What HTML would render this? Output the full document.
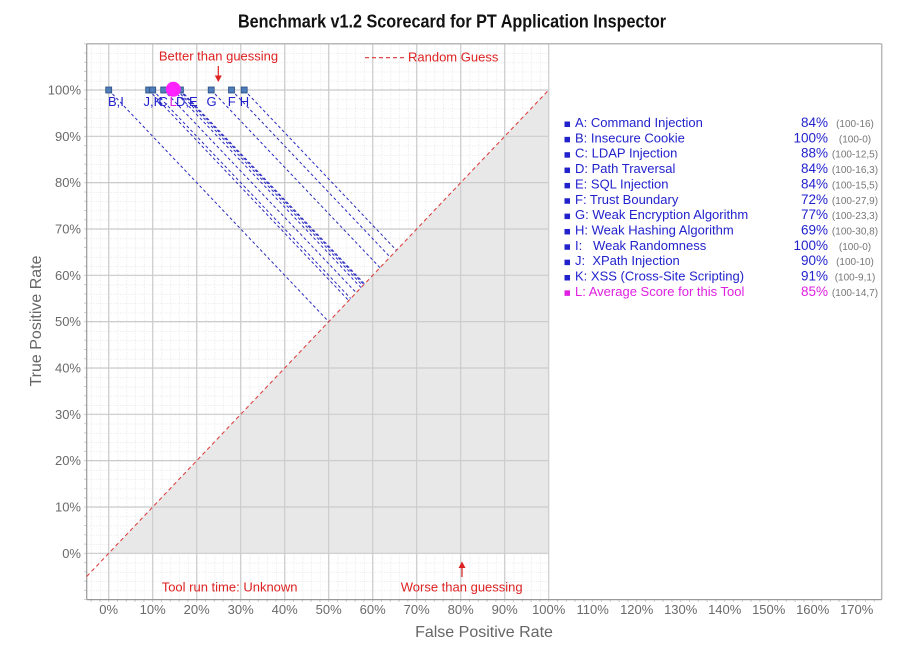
<!DOCTYPE html>
<html><head><meta charset="utf-8"><style>
html,body{margin:0;padding:0;background:#fff;}
svg{display:block;font-family:"Liberation Sans",Arial,sans-serif;}
</style></head><body>
<svg width="904" height="646" viewBox="0 0 904 646" xmlns="http://www.w3.org/2000/svg">
<defs>
<pattern id="minor" patternUnits="userSpaceOnUse" x="108.7" y="553.3" width="8.8" height="9.266">
<line x1="0.5" y1="0" x2="0.5" y2="9.266" stroke="#e8e8e8" stroke-width="1" stroke-dasharray="1 1.5"/>
<line x1="0" y1="0.5" x2="8.8" y2="0.5" stroke="#e8e8e8" stroke-width="1" stroke-dasharray="1 1.5"/>
</pattern>
</defs>
<rect width="904" height="646" fill="#fff"/>
<text x="452" y="27.5" text-anchor="middle" font-size="18" font-weight="bold" fill="#111" textLength="428" lengthAdjust="spacingAndGlyphs">Benchmark v1.2 Scorecard for PT Application Inspector</text>

<!-- grid area -->
<rect x="86.7" y="43.7" width="462" height="555.9" fill="url(#minor)"/>
<polygon points="108.7,553.3 548.7,553.3 548.7,90" fill="#e8e8e8"/>
<g stroke="#cccccc" stroke-width="1.2">
<line x1="108.7" y1="43.7" x2="108.7" y2="599.6"/>
<line x1="152.7" y1="43.7" x2="152.7" y2="599.6"/>
<line x1="196.7" y1="43.7" x2="196.7" y2="599.6"/>
<line x1="240.7" y1="43.7" x2="240.7" y2="599.6"/>
<line x1="284.7" y1="43.7" x2="284.7" y2="599.6"/>
<line x1="328.7" y1="43.7" x2="328.7" y2="599.6"/>
<line x1="372.7" y1="43.7" x2="372.7" y2="599.6"/>
<line x1="416.7" y1="43.7" x2="416.7" y2="599.6"/>
<line x1="460.7" y1="43.7" x2="460.7" y2="599.6"/>
<line x1="504.7" y1="43.7" x2="504.7" y2="599.6"/>
<line x1="548.7" y1="43.7" x2="548.7" y2="599.6"/>
<line x1="86.7" y1="553.3" x2="548.7" y2="553.3"/>
<line x1="86.7" y1="507.0" x2="548.7" y2="507.0"/>
<line x1="86.7" y1="460.6" x2="548.7" y2="460.6"/>
<line x1="86.7" y1="414.3" x2="548.7" y2="414.3"/>
<line x1="86.7" y1="368.0" x2="548.7" y2="368.0"/>
<line x1="86.7" y1="321.65" x2="548.7" y2="321.65"/>
<line x1="86.7" y1="275.3" x2="548.7" y2="275.3"/>
<line x1="86.7" y1="229.0" x2="548.7" y2="229.0"/>
<line x1="86.7" y1="182.6" x2="548.7" y2="182.6"/>
<line x1="86.7" y1="136.3" x2="548.7" y2="136.3"/>
<line x1="86.7" y1="90" x2="548.7" y2="90"/>
</g>

<!-- plot border -->
<line x1="86.7" y1="43.7" x2="881.7" y2="43.7" stroke="#b8b8b8" stroke-width="1.5"/>
<line x1="881.7" y1="43.7" x2="881.7" y2="599.6" stroke="#b8b8b8" stroke-width="1.5"/>
<line x1="86.7" y1="43.7" x2="86.7" y2="599.6" stroke="#999" stroke-width="1.2"/>
<line x1="86.7" y1="599.6" x2="881.7" y2="599.6" stroke="#999" stroke-width="1.2"/>
<!-- ticks -->
<line x1="85" y1="43.2" x2="85" y2="600" stroke="#bbb" stroke-width="1.5" stroke-dasharray="1 8.266"/>
<line x1="86.7" y1="601" x2="881.7" y2="601" stroke="#bbb" stroke-width="1.5" stroke-dasharray="1 7.8" stroke-dashoffset="4.9"/>

<!-- random guess diagonal -->
<line x1="86.7" y1="576.5" x2="548.7" y2="90" stroke="#dd4444" stroke-width="1.1" stroke-dasharray="4 3"/>

<!-- projection lines -->
<g stroke="#2b2bc0" stroke-width="1" stroke-dasharray="3 2.5" fill="none">
<line x1="108.7" y1="90" x2="328.7" y2="321.65"/>
<line x1="152.7" y1="90" x2="350.7" y2="298.5"/>
<line x1="148.74" y1="90" x2="348.72" y2="300.57"/>
<line x1="163.7" y1="90" x2="356.2" y2="292.7"/>
<line x1="173.38" y1="90" x2="361.04" y2="287.6"/>
<line x1="176.9" y1="90" x2="362.8" y2="285.75"/>
<line x1="179.1" y1="90" x2="363.9" y2="284.6"/>
<line x1="180.42" y1="90" x2="364.56" y2="283.9"/>
<line x1="211.22" y1="90" x2="380.0" y2="267.7"/>
<line x1="231.46" y1="90" x2="390.08" y2="257.02"/>
<line x1="244.22" y1="90" x2="396.46" y2="250.3"/>
</g>

<!-- points -->
<g fill="#4f7db8" stroke="#2c4f86" stroke-width="0.8">
<rect x="105.7" y="87" width="6" height="6"/>
<rect x="145.7" y="87" width="6" height="6"/>
<rect x="149.7" y="87" width="6" height="6"/>
<rect x="160.7" y="87" width="6" height="6"/>
<rect x="173.9" y="87" width="6" height="6"/>
<rect x="176.1" y="87" width="6" height="6"/>
<rect x="177.4" y="87" width="6" height="6"/>
<rect x="208.2" y="87" width="6" height="6"/>
<rect x="228.5" y="87" width="6" height="6"/>
<rect x="241.2" y="87" width="6" height="6"/>
</g>
<circle cx="173.3" cy="89.3" r="7.5" fill="#ff22ff"/>

<!-- point labels -->
<g font-size="13" fill="#2222cc">
<text x="108" y="106">B,I</text>
<text x="143.5" y="106">J,K</text>
<text x="158.5" y="106">C</text>
<text x="176" y="106">D,E</text>
<text x="211.5" y="106" text-anchor="middle">G</text>
<text x="231.7" y="106" text-anchor="middle">F</text>
<text x="244.5" y="106" text-anchor="middle">H</text>
</g>
<text x="169.5" y="106" font-size="13" fill="#e020e0">L</text>

<!-- annotations -->
<g fill="#dd2222" font-size="13">
<text x="218.5" y="60.7" text-anchor="middle">Better than guessing</text>
<text x="408" y="61.7">Random Guess</text>
<text x="161.7" y="591.7">Tool run time: Unknown</text>
<text x="461.7" y="591.7" text-anchor="middle">Worse than guessing</text>
</g>
<line x1="365" y1="57.7" x2="406" y2="57.7" stroke="#dd3333" stroke-width="1.1" stroke-dasharray="4 3"/>
<line x1="218.3" y1="66" x2="218.3" y2="76" stroke="#dd2222" stroke-width="1.2"/>
<polygon points="214.8,75.5 221.8,75.5 218.3,82" fill="#dd2222"/>
<line x1="462" y1="577" x2="462" y2="567" stroke="#dd2222" stroke-width="1.2"/>
<polygon points="458.5,568 465.5,568 462,561.5" fill="#dd2222"/>

<!-- y tick labels -->
<g font-size="13" fill="#6a6a6a" text-anchor="end">
<text x="81" y="557.9">0%</text>
<text x="81" y="511.6">10%</text>
<text x="81" y="465.2">20%</text>
<text x="81" y="418.9">30%</text>
<text x="81" y="372.6">40%</text>
<text x="81" y="326.2">50%</text>
<text x="81" y="279.9">60%</text>
<text x="81" y="233.6">70%</text>
<text x="81" y="187.2">80%</text>
<text x="81" y="140.9">90%</text>
<text x="81" y="94.6">100%</text>
</g>
<!-- x tick labels -->
<g font-size="13" fill="#6a6a6a" text-anchor="middle">
<text x="108.7" y="614">0%</text>
<text x="152.7" y="614">10%</text>
<text x="196.7" y="614">20%</text>
<text x="240.7" y="614">30%</text>
<text x="284.7" y="614">40%</text>
<text x="328.7" y="614">50%</text>
<text x="372.7" y="614">60%</text>
<text x="416.7" y="614">70%</text>
<text x="460.7" y="614">80%</text>
<text x="504.7" y="614">90%</text>
<text x="548.7" y="614">100%</text>
<text x="592.7" y="614">110%</text>
<text x="636.7" y="614">120%</text>
<text x="680.7" y="614">130%</text>
<text x="724.7" y="614">140%</text>
<text x="768.7" y="614">150%</text>
<text x="812.7" y="614">160%</text>
<text x="856.7" y="614">170%</text>
</g>
<!-- axis titles -->
<text x="484" y="637" font-size="16" fill="#666" text-anchor="middle">False Positive Rate</text>
<text transform="translate(41,321) rotate(-90)" font-size="16" fill="#666" text-anchor="middle">True Positive Rate</text>

<!-- legend -->
<g fill="#2222cc">
<rect x="564.5" y="121.5" width="5.5" height="5.5"/>
<rect x="564.5" y="136.85" width="5.5" height="5.5"/>
<rect x="564.5" y="152.2" width="5.5" height="5.5"/>
<rect x="564.5" y="167.55" width="5.5" height="5.5"/>
<rect x="564.5" y="182.9" width="5.5" height="5.5"/>
<rect x="564.5" y="198.25" width="5.5" height="5.5"/>
<rect x="564.5" y="213.6" width="5.5" height="5.5"/>
<rect x="564.5" y="228.95" width="5.5" height="5.5"/>
<rect x="564.5" y="244.3" width="5.5" height="5.5"/>
<rect x="564.5" y="259.65" width="5.5" height="5.5"/>
<rect x="564.5" y="275.0" width="5.5" height="5.5"/>
</g>
<rect x="564.5" y="290.35" width="5.5" height="5.5" fill="#e020e0"/>
<g font-size="13" fill="#2222cc">
<text x="575" y="127">A: Command Injection</text>
<text x="575" y="142.35">B: Insecure Cookie</text>
<text x="575" y="157.7">C: LDAP Injection</text>
<text x="575" y="173.05">D: Path Traversal</text>
<text x="575" y="188.4">E: SQL Injection</text>
<text x="575" y="203.75">F: Trust Boundary</text>
<text x="575" y="219.1">G: Weak Encryption Algorithm</text>
<text x="575" y="234.45">H: Weak Hashing Algorithm</text>
<text x="575" y="249.8">I:&#160;&#160; Weak Randomness</text>
<text x="575" y="265.15">J:&#160; XPath Injection</text>
<text x="575" y="280.5">K: XSS (Cross-Site Scripting)</text>
</g>
<text x="575" y="295.85" font-size="13" fill="#e020e0">L: Average Score for this Tool</text>
<g font-size="13.5" fill="#2222cc" text-anchor="end">
<text x="828" y="127">84%</text>
<text x="828" y="142.35">100%</text>
<text x="828" y="157.7">88%</text>
<text x="828" y="173.05">84%</text>
<text x="828" y="188.4">84%</text>
<text x="828" y="203.75">72%</text>
<text x="828" y="219.1">77%</text>
<text x="828" y="234.45">69%</text>
<text x="828" y="249.8">100%</text>
<text x="828" y="265.15">90%</text>
<text x="828" y="280.5">91%</text>
</g>
<text x="828" y="295.85" font-size="13.5" fill="#e020e0" text-anchor="end">85%</text>
<g font-size="10" fill="#777" text-anchor="middle">
<text x="855" y="127">(100-16)</text>
<text x="855" y="142.35">(100-0)</text>
<text x="855" y="157.7">(100-12,5)</text>
<text x="855" y="173.05">(100-16,3)</text>
<text x="855" y="188.4">(100-15,5)</text>
<text x="855" y="203.75">(100-27,9)</text>
<text x="855" y="219.1">(100-23,3)</text>
<text x="855" y="234.45">(100-30,8)</text>
<text x="855" y="249.8">(100-0)</text>
<text x="855" y="265.15">(100-10)</text>
<text x="855" y="280.5">(100-9,1)</text>
<text x="855" y="295.85">(100-14,7)</text>
</g>
</svg>
</body></html>
